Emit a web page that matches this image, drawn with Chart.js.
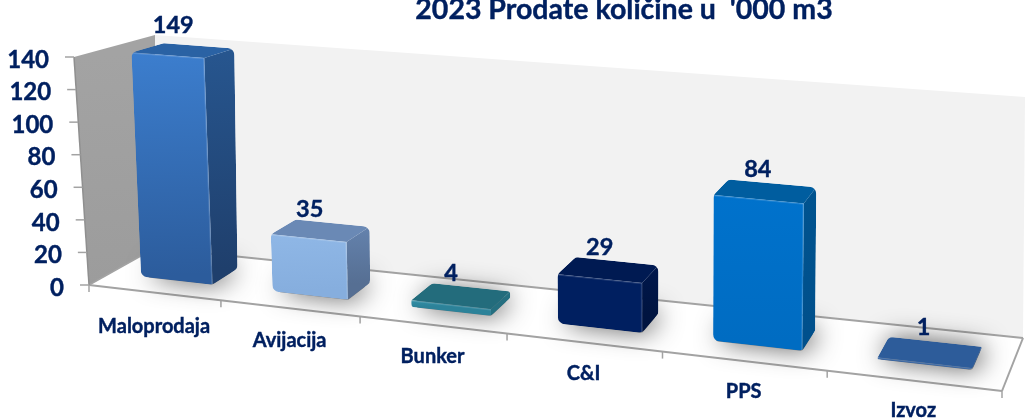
<!DOCTYPE html>
<html><head><meta charset="utf-8">
<style>html,body{margin:0;padding:0;background:#fff;overflow:hidden}canvas{display:block}</style>
<script src="https://cdn.jsdelivr.net/npm/chart.js@4"></script>
</head><body>
<canvas id="c" width="1025" height="418"></canvas>
<script>
const chartTitle = "2023 Prodate količine u  '000 m3";
const categories = ["Maloprodaja","Avijacija","Bunker","C&I","PPS","Izvoz"];
const values = [149,35,4,29,84,1];
const yTicks = [0,20,40,60,80,100,120,140];
const frontTop = ["#3c7ece","#8fb7e6","#318fa6","#001f60","#0072cc","#2f62a6"];
const frontBot = ["#2c5c9c","#86aede","#2c8299","#001f60","#006cc2","#2c5b9a"];
const sideTop  = ["#27568f","#6482ad","#256f80","#00174c","#00538f","#2a5690"];
const sideBot  = ["#1f3f6c","#566f93","#256f80","#001440","#00508c","#2a5690"];
const topColor = ["#2a62a4","#6a89b5","#236c7c","#001a52","#005d9f","#2d5c9a"];

const NAVY = "#002060", FONT = "Lato, Carlito, sans-serif";
const box = {
  flb:[89,285], frb:[1002,391], blb:[155,248], brb:[1023,338],
  flt:[74,57],  frt:[1010,133], blt:[155,35],  brt:[1025,97]
};
const K = 1.184, D0 = 0.32, D1 = 0.73, USHIFT = 0.003;
const persp = u => u/(u+K*(1-u));
const mix = (a,b,t)=>[a[0]+(b[0]-a[0])*t,a[1]+(b[1]-a[1])*t];
function P(u,v,d){
  const f=persp(u);
  const fb=mix(box.flb,box.frb,f), ft=mix(box.flt,box.frt,f);
  const bb=mix(box.blb,box.brb,f), bt=mix(box.blt,box.brt,f);
  return mix(mix(fb,ft,v),mix(bb,bt,v),d);
}
function poly(ctx,pts,r){
  ctx.beginPath();
  const n=pts.length;
  if(!r){pts.forEach((p,i)=>i?ctx.lineTo(p[0],p[1]):ctx.moveTo(p[0],p[1]));ctx.closePath();return;}
  const s=mix(pts[n-1],pts[0],.5);
  ctx.moveTo(s[0],s[1]);
  for(let i=0;i<n;i++){const a=pts[i],b=pts[(i+1)%n],c=pts[(i+n-1)%n];
    const len=Math.hypot(b[0]-a[0],b[1]-a[1]),pl=Math.hypot(c[0]-a[0],c[1]-a[1]);
    ctx.arcTo(a[0],a[1],b[0],b[1],Math.min(r,len/2,pl/2));}
  ctx.closePath();
}
function line(ctx,a,b,c,w){ctx.strokeStyle=c;ctx.lineWidth=w;ctx.beginPath();ctx.moveTo(a[0],a[1]);ctx.lineTo(b[0],b[1]);ctx.stroke();}
function grad(ctx,a,b,c0,c1){const g=ctx.createLinearGradient(a[0],a[1],b[0],b[1]);g.addColorStop(0,c0);g.addColorStop(1,c1);return g;}
function heavy(ctx,s,x,y){ctx.fillText(s,x,y);ctx.strokeStyle=ctx.fillStyle;ctx.lineWidth=.4;ctx.strokeText(s,x,y);}
function geom(chart,el){
  const a=chart.chartArea,W=a.right-a.left,H=a.bottom-a.top;
  const u0=(el.x-el.width/2-a.left)/W+USHIFT,u1=(el.x+el.width/2-a.left)/W+USHIFT;
  const v=Math.min(1,(a.bottom-el.y)/H),vb=(a.bottom-el.base)/H;
  return {u0,u1,um:(u0+u1)/2,v,vb};
}
const scene3d = {
  id:'scene3d',
  beforeDatasetsDraw(chart){
    const ctx=chart.ctx,x=chart.scales.x,y=chart.scales.y,a=chart.chartArea,H=a.bottom-a.top;
    ctx.save();
    ctx.fillStyle="#fff";poly(ctx,[box.flb,box.frb,box.brb,box.blb]);ctx.fill();
    ctx.fillStyle="#f2f2f2";poly(ctx,[box.blb,box.brb,box.brt,box.blt]);ctx.fill();
    ctx.fillStyle=grad(ctx,box.flt,box.flb,"#a3a3a3","#9c9c9c");poly(ctx,[box.flb,box.blb,box.blt,box.flt]);ctx.fill();
    const G="#a3a3a3";
    line(ctx,box.flb,box.frb,G,2);line(ctx,box.blb,box.brb,G,2);line(ctx,box.frb,box.brb,G,2);line(ctx,box.flb,box.blb,G,1.5);
    line(ctx,box.flb,box.flt,"#8f8f8f",1.5);
    ctx.textBaseline="middle";
    y.ticks.forEach(t=>{
      const v=(a.bottom-y.getPixelForValue(t.value))/H,p=P(0,v,0);
      line(ctx,p,[p[0]-9,p[1]],G,1.5);
      ctx.fillStyle=NAVY;ctx.font="bold 24px "+FONT;ctx.textAlign="right";
      heavy(ctx,t.label,p[0]-25,p[1]+3);
    });
    const W=a.right-a.left,n=categories.length;
    for(let i=0;i<=n;i++){const p=P(i/n,0,0);line(ctx,p,[p[0],p[1]+7],G,1.5);}
    ctx.font="bold 20px "+FONT;ctx.textAlign="center";ctx.fillStyle=NAVY;
    x.ticks.forEach((t,i)=>{
      const u=(x.getPixelForTick(i)-a.left)/W,p=P(u,0,0);
      heavy(ctx,x.getLabelForValue(t.value),p[0],p[1]+34-5*u);
    });
    chart.getDatasetMeta(0).data.forEach(el=>{
      const b=geom(chart,el);
      const q=[P(b.u0,0,D0),P(b.u1,0,D0),P(b.u1,0,D1),P(b.u0,0,D1)];
      ctx.save();
      poly(ctx,q,3);
      ctx.shadowColor="rgba(0,0,0,.7)";ctx.shadowBlur=26;ctx.shadowOffsetX=4;ctx.shadowOffsetY=-1;
      ctx.fillStyle="#888";ctx.fill();
      ctx.restore();
    });
    ctx.restore();
  },
  beforeDatasetDraw(chart,args){
    const ctx=chart.ctx;
    ctx.save();
    args.meta.data.forEach((el,i)=>{
      const b=geom(chart,el),r=7;
      const fl0=P(b.u0,b.vb,D0),fr0=P(b.u1,b.vb,D0),fl1=P(b.u0,b.v,D0),fr1=P(b.u1,b.v,D0);
      const br0=P(b.u1,b.vb,D1),br1=P(b.u1,b.v,D1),bl1=P(b.u0,b.v,D1);
      ctx.save();
      poly(ctx,[fl0,fr0,br0,br1,bl1,fl1],r);ctx.clip();
      ctx.fillStyle=grad(ctx,br1,br0,sideTop[i],sideBot[i]);
      poly(ctx,[fr0,br0,br1,fr1]);ctx.fill();
      ctx.fillStyle=topColor[i];
      poly(ctx,[fl1,fr1,br1,bl1]);ctx.fill();
      ctx.fillStyle=grad(ctx,fl1,fl0,frontTop[i],frontBot[i]);
      poly(ctx,[fl0,fr0,fr1,fl1]);ctx.fill();
      ctx.globalAlpha=.14;
      line(ctx,[fl1[0],fl1[1]+.5],[fr1[0],fr1[1]+.5],"#fff",1.5);
      if(fl0[1]-fl1[1]>10) line(ctx,[fr1[0]-.5,fr1[1]],[fr0[0]-.5,fr0[1]],"#fff",1.5);
      ctx.restore();
    });
    ctx.restore();
    return false;
  },
  afterDatasetsDraw(chart){
    const ctx=chart.ctx;
    ctx.save();
    ctx.font="bold 23.5px "+FONT;ctx.fillStyle=NAVY;ctx.textAlign="center";ctx.textBaseline="middle";
    chart.getDatasetMeta(0).data.forEach((el,i)=>{
      const b=geom(chart,el),p=P(b.um,b.v,D1);
      heavy(ctx,String(values[i]),p[0]-27+17*b.um,p[1]-(b.v>=1?20:14));
    });
    ctx.font="bold 28.5px "+FONT;ctx.textBaseline="alphabetic";
    heavy(ctx,chartTitle,624,18.5);
    ctx.restore();
  }
};
new Chart(document.getElementById('c'),{
  type:'bar',
  data:{labels:categories,datasets:[{label:chartTitle,data:values,backgroundColor:frontTop,barPercentage:.55,categoryPercentage:1}]},
  options:{
    responsive:false,animation:false,
    layout:{padding:{left:89,right:23,top:57,bottom:133}},
    plugins:{legend:{display:false},tooltip:{enabled:false}},
    scales:{
      x:{display:false,type:'category'},
      y:{display:false,min:0,max:140,ticks:{stepSize:20}}
    }
  },
  plugins:[scene3d]
});
</script>
</body></html>
